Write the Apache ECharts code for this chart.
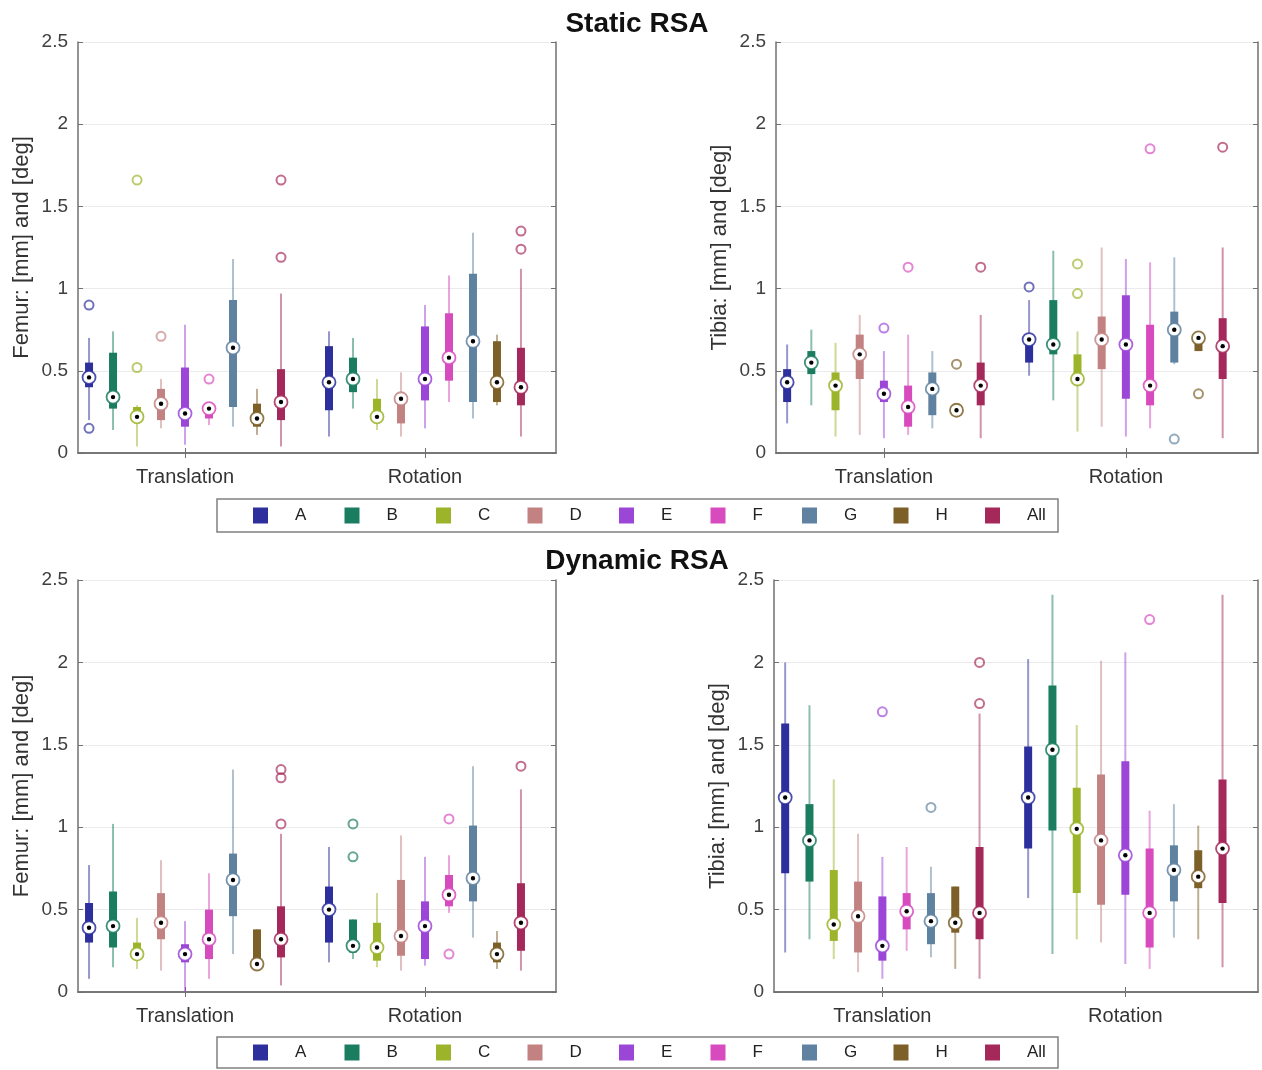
<!DOCTYPE html>
<html>
<head>
<meta charset="utf-8">
<title>Static and Dynamic RSA</title>
<script src="https://cdn.jsdelivr.net/npm/echarts@6/dist/echarts.min.js"></script>
<style>
  html, body { margin: 0; padding: 0; background: #fff; }
  #chart { width: 1262px; height: 1070px; }
</style>
</head>
<body>
<div id="chart"></div>
<script>
const groups = ['A', 'B', 'C', 'D', 'E', 'F', 'G', 'H', 'All'];
const categories = ['Translation', 'Rotation'];

// each row: [lower whisker, q1, median, q3, upper whisker], one row per group
const femurStaticTranslation = [
  [0.20, 0.40, 0.46, 0.55, 0.70], [0.14, 0.27, 0.34, 0.61, 0.74], [0.04, 0.20, 0.22, 0.28, 0.29],
  [0.15, 0.20, 0.30, 0.39, 0.45], [0.05, 0.16, 0.24, 0.52, 0.78], [0.17, 0.21, 0.27, 0.28, 0.29],
  [0.16, 0.28, 0.64, 0.93, 1.18], [0.11, 0.16, 0.21, 0.30, 0.39], [0.04, 0.20, 0.31, 0.51, 0.97]
];
const femurStaticRotation = [
  [0.10, 0.26, 0.43, 0.65, 0.74], [0.27, 0.37, 0.45, 0.58, 0.70], [0.14, 0.20, 0.22, 0.33, 0.45],
  [0.10, 0.18, 0.33, 0.34, 0.49], [0.15, 0.32, 0.45, 0.77, 0.90], [0.31, 0.44, 0.58, 0.85, 1.08],
  [0.21, 0.31, 0.68, 1.09, 1.34], [0.29, 0.31, 0.43, 0.68, 0.72], [0.10, 0.29, 0.40, 0.64, 1.12]
];
const tibiaStaticTranslation = [
  [0.18, 0.31, 0.43, 0.51, 0.66], [0.29, 0.48, 0.55, 0.62, 0.75], [0.10, 0.26, 0.41, 0.49, 0.67],
  [0.11, 0.45, 0.60, 0.72, 0.84], [0.09, 0.31, 0.36, 0.44, 0.62], [0.11, 0.16, 0.28, 0.41, 0.72],
  [0.15, 0.23, 0.39, 0.49, 0.62], [0.25, 0.25, 0.26, 0.28, 0.29], [0.09, 0.29, 0.41, 0.55, 0.84]
];
const tibiaStaticRotation = [
  [0.47, 0.55, 0.69, 0.71, 0.93], [0.32, 0.60, 0.66, 0.93, 1.23], [0.13, 0.42, 0.45, 0.60, 0.74],
  [0.16, 0.51, 0.69, 0.83, 1.25], [0.10, 0.33, 0.66, 0.96, 1.18], [0.15, 0.29, 0.41, 0.78, 1.16],
  [0.54, 0.55, 0.75, 0.86, 1.19], [0.62, 0.62, 0.70, 0.72, 0.72], [0.09, 0.45, 0.65, 0.82, 1.25]
];
const femurDynamicTranslation = [
  [0.08, 0.30, 0.39, 0.54, 0.77], [0.15, 0.27, 0.40, 0.61, 1.02], [0.14, 0.21, 0.23, 0.30, 0.45],
  [0.13, 0.32, 0.42, 0.60, 0.80], [0.00, 0.18, 0.23, 0.29, 0.43], [0.08, 0.20, 0.32, 0.50, 0.72],
  [0.23, 0.46, 0.68, 0.84, 1.35], [0.17, 0.17, 0.17, 0.38, 0.38], [0.04, 0.21, 0.32, 0.52, 0.96]
];
const femurDynamicRotation = [
  [0.18, 0.30, 0.50, 0.64, 0.88], [0.20, 0.24, 0.28, 0.44, 0.44], [0.15, 0.19, 0.27, 0.42, 0.60],
  [0.13, 0.22, 0.34, 0.68, 0.95], [0.16, 0.20, 0.40, 0.55, 0.82], [0.48, 0.52, 0.59, 0.71, 0.83],
  [0.33, 0.55, 0.69, 1.01, 1.37], [0.14, 0.18, 0.23, 0.30, 0.37], [0.13, 0.25, 0.42, 0.66, 1.23]
];
const tibiaDynamicTranslation = [
  [0.24, 0.72, 1.18, 1.63, 2.00], [0.32, 0.67, 0.92, 1.14, 1.74], [0.20, 0.31, 0.41, 0.74, 1.29],
  [0.12, 0.24, 0.46, 0.67, 0.96], [0.08, 0.19, 0.28, 0.58, 0.82], [0.25, 0.38, 0.49, 0.60, 0.88],
  [0.21, 0.29, 0.43, 0.60, 0.76], [0.14, 0.36, 0.42, 0.64, 0.64], [0.08, 0.32, 0.48, 0.88, 1.69]
];
const tibiaDynamicRotation = [
  [0.57, 0.87, 1.18, 1.49, 2.02], [0.23, 0.98, 1.47, 1.86, 2.41], [0.32, 0.60, 0.99, 1.24, 1.62],
  [0.30, 0.53, 0.92, 1.32, 2.01], [0.17, 0.59, 0.83, 1.40, 2.06], [0.14, 0.27, 0.48, 0.87, 1.10],
  [0.33, 0.55, 0.74, 0.89, 1.14], [0.32, 0.63, 0.70, 0.86, 1.01], [0.15, 0.54, 0.87, 1.29, 2.41]
];

// outliers: [group index, category index, value]
const femurStaticOutliers = [[0, 0, 0.90], [0, 0, 0.15], [2, 0, 1.66], [2, 0, 0.52], [3, 0, 0.71], [5, 0, 0.45], [8, 0, 1.66], [8, 0, 1.19], [8, 1, 1.35], [8, 1, 1.24]];
const tibiaStaticOutliers = [[4, 0, 0.76], [5, 0, 1.13], [7, 0, 0.54], [8, 0, 1.13], [0, 1, 1.01], [2, 1, 1.15], [2, 1, 0.97], [5, 1, 1.85], [6, 1, 0.085], [7, 1, 0.36], [8, 1, 1.86]];
const femurDynamicOutliers = [[8, 0, 1.35], [8, 0, 1.30], [8, 0, 1.02], [1, 1, 1.02], [1, 1, 0.82], [5, 1, 1.05], [5, 1, 0.23], [8, 1, 1.37]];
const tibiaDynamicOutliers = [[4, 0, 1.70], [6, 0, 1.12], [8, 0, 2.00], [8, 0, 1.75], [5, 1, 2.26]];

const colors = ['#2c2f9c', '#1a7d5f', '#9bb42a', '#c38282', '#9b46d7', '#d74bbe', '#5f82a0', '#7d5f28', '#a5285a'];

const panels = [
  { yName: 'Femur: [mm] and [deg]', cats: [femurStaticTranslation, femurStaticRotation], outliers: femurStaticOutliers, grid: { left: 78, top: 42, width: 478, height: 411 } },
  { yName: 'Tibia: [mm] and [deg]', cats: [tibiaStaticTranslation, tibiaStaticRotation], outliers: tibiaStaticOutliers, grid: { left: 776, top: 42, width: 482, height: 411 } },
  { yName: 'Femur: [mm] and [deg]', cats: [femurDynamicTranslation, femurDynamicRotation], outliers: femurDynamicOutliers, grid: { left: 78, top: 580, width: 478, height: 412 } },
  { yName: 'Tibia: [mm] and [deg]', cats: [tibiaDynamicTranslation, tibiaDynamicRotation], outliers: tibiaDynamicOutliers, grid: { left: 774, top: 580, width: 484, height: 412 } }
];

function fade(hex, a) {
  const n = parseInt(hex.slice(1), 16);
  return 'rgba(' + (n >> 16) + ',' + ((n >> 8) & 255) + ',' + (n & 255) + ',' + a + ')';
}
// box position on x: category centre 1 or 2, groups spaced 0.1 apart
function xPos(g, c) { return c + 1 + (g - 4) * 0.1; }

const font = 'Liberation Sans, Arial, sans-serif';
const frame = { show: true, lineStyle: { color: '#707070', width: 1.5 } };

function renderBox(params, api) {
  const x = api.value(0);
  const color = api.visual('color');
  const lo = api.coord([x, api.value(1)]);
  const q1 = api.coord([x, api.value(2)]);
  const md = api.coord([x, api.value(3)]);
  const q3 = api.coord([x, api.value(4)]);
  const hi = api.coord([x, api.value(5)]);
  return {
    type: 'group',
    children: [
      { type: 'line', shape: { x1: lo[0], y1: lo[1], x2: hi[0], y2: hi[1] }, style: { stroke: fade(color, 0.5), lineWidth: 2 } },
      { type: 'rect', shape: { x: q1[0] - 4, y: q3[1], width: 8, height: Math.max(q1[1] - q3[1], 1) }, style: { fill: color } },
      { type: 'circle', shape: { cx: md[0], cy: md[1], r: 6.5 }, style: { fill: '#fff', stroke: fade(color, 0.85), lineWidth: 1.8 } },
      { type: 'circle', shape: { cx: md[0], cy: md[1], r: 2.2 }, style: { fill: '#000' } }
    ]
  };
}

const xAxis = [], yAxis = [], grid = [], series = [];
panels.forEach(function (p, i) {
  grid.push(p.grid);
  xAxis.push({
    type: 'value', gridIndex: i, min: 0.554, max: 2.546,
    axisLine: frame,
    axisTick: { inside: true, length: 5, customValues: [1, 2], lineStyle: { color: '#707070' } },
    axisLabel: { customValues: [1, 2], margin: 14, color: '#333', fontSize: 20, fontFamily: font, formatter: function (v) { return categories[Math.round(v) - 1]; } },
    splitLine: { show: false }
  });
  yAxis.push({
    type: 'value', gridIndex: i, min: 0, max: 2.5, interval: 0.5,
    name: p.yName, nameLocation: 'middle', nameGap: 45,
    nameTextStyle: { fontSize: 22, color: '#333', fontFamily: font },
    axisLine: frame,
    axisTick: { inside: true, length: 5, lineStyle: { color: '#707070' } },
    axisLabel: { margin: 10, color: '#404040', fontSize: 19, fontFamily: font, formatter: function (v) { return String(v); } },
    splitLine: { lineStyle: { color: '#ebebeb' } }
  });
  groups.forEach(function (g, gi) {
    series.push({
      type: 'custom', name: g, xAxisIndex: i, yAxisIndex: i,
      itemStyle: { color: colors[gi] },
      renderItem: renderBox,
      encode: { x: 0, y: [1, 2, 3, 4, 5] },
      data: p.cats.map(function (rows, c) { return [xPos(gi, c)].concat(rows[gi]); }),
      silent: true
    });
    const out = p.outliers.filter(function (o) { return o[0] === gi; });
    if (out.length) {
      series.push({
        type: 'scatter', name: g, xAxisIndex: i, yAxisIndex: i,
        symbol: 'circle', symbolSize: 9,
        itemStyle: { color: 'rgba(255,255,255,0)', borderColor: fade(colors[gi], 0.85), borderWidth: 2 },
        data: out.map(function (o) { return [xPos(o[0], o[1]), o[2]]; }),
        silent: true
      });
    }
  });
});
// mirrored frame axes on top and right
panels.forEach(function (p, i) {
  xAxis.push({
    type: 'value', gridIndex: i, position: 'top', min: 0.554, max: 2.546,
    axisLine: frame, axisLabel: { show: false }, splitLine: { show: false },
    axisTick: { inside: true, length: 5, customValues: [1, 2], lineStyle: { color: '#707070' } }
  });
  yAxis.push({
    type: 'value', gridIndex: i, position: 'right', min: 0, max: 2.5, interval: 0.5,
    axisLine: frame, axisLabel: { show: false }, splitLine: { show: false },
    axisTick: { inside: true, length: 5, lineStyle: { color: '#707070' } }
  });
});

// one legend entry per component so the entries sit on an even pitch
const legends = [];
[507, 1044].forEach(function (top) {
  groups.forEach(function (g, gi) {
    legends.push({
      data: [{ name: g, icon: 'rect', itemStyle: { color: colors[gi] } }],
      left: 253 + gi * 91.5, top: top, itemWidth: 15, itemHeight: 16,
      selectedMode: false, padding: 0,
      textStyle: { fontSize: 17, color: '#222', fontFamily: font, padding: [0, 0, 0, 22] }
    });
  });
});

const chart = echarts.init(document.getElementById('chart'));
chart.setOption({
  animation: false,
  backgroundColor: '#fff',
  title: [
    { text: 'Static RSA', left: 632, top: 5, textAlign: 'center', textStyle: { fontSize: 28, fontWeight: 'bold', color: '#111', fontFamily: font } },
    { text: 'Dynamic RSA', left: 632, top: 542, textAlign: 'center', textStyle: { fontSize: 28, fontWeight: 'bold', color: '#111', fontFamily: font } }
  ],
  legend: legends,
  graphic: [
    { type: 'rect', shape: { x: 217, y: 499, width: 841, height: 33 }, style: { fill: 'none', stroke: '#808080', lineWidth: 1.5 }, silent: true },
    { type: 'rect', shape: { x: 217, y: 1037, width: 841, height: 31 }, style: { fill: 'none', stroke: '#808080', lineWidth: 1.5 }, silent: true }
  ],
  grid: grid,
  xAxis: xAxis,
  yAxis: yAxis,
  series: series
});
</script>
</body>
</html>
